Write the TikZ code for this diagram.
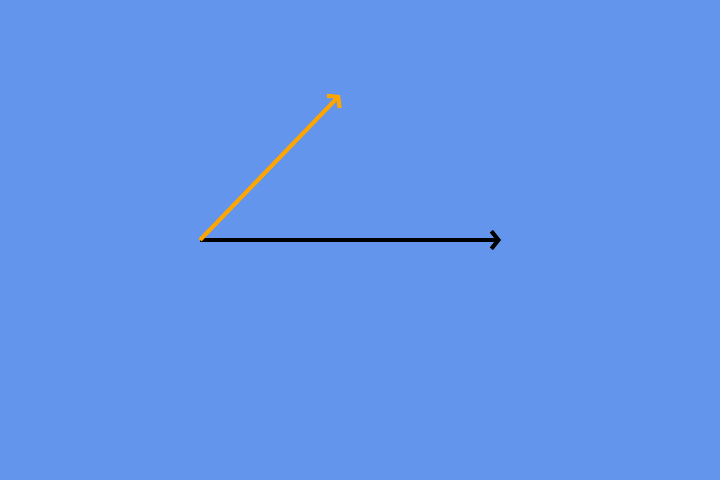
\documentclass[tikz,border=0pt]{standalone}
\usepackage{tikz}
\usetikzlibrary{arrows.meta}
\usepackage{xcolor}
\definecolor{sky}{HTML}{6495ED}
\definecolor{amber}{HTML}{FFA500}
\tikzset{vec/.style={line width=2.3pt,-{Straight Barb[length=4pt,width=10pt]}}}

\begin{document}
\begin{tikzpicture}
    \fill[sky] (0,0) rectangle (14.4,9.6);
    \useasboundingbox (0,0) rectangle (14.4,9.6);
    \coordinate (o) at (4.0,4.8);
    \coordinate (u) at (10.02,4.8);
    \coordinate (v) at (6.80,7.7);
    \draw[vec,black] (o) -- (u);
    \draw[vec,amber,line join=miter] (o) -- (v);
  \end{tikzpicture}
\end{document}
